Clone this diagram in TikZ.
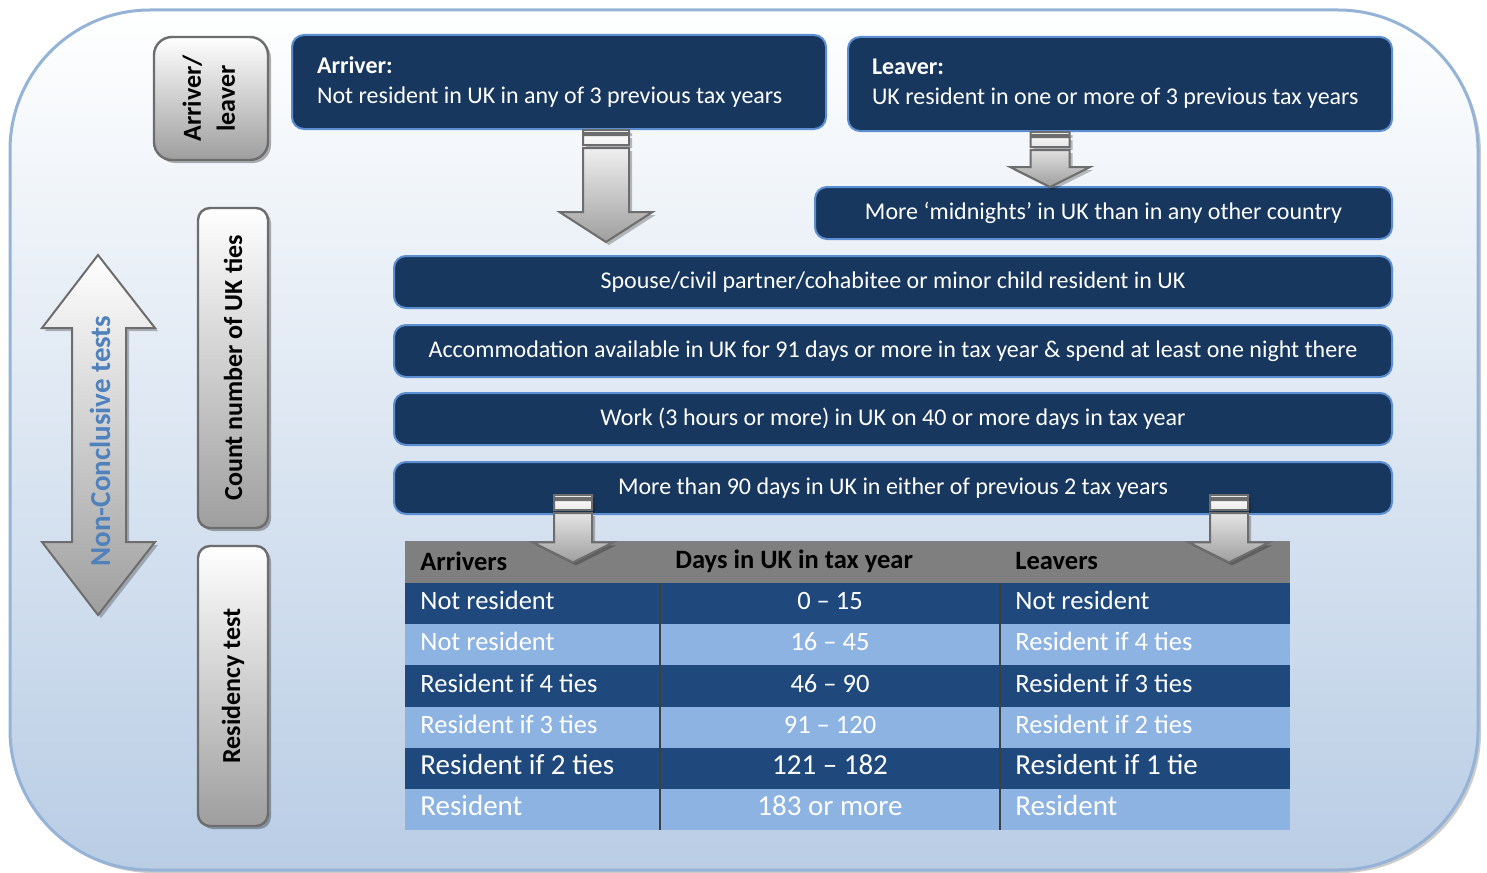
\documentclass[tikz,border=0pt]{standalone}
\usepackage{fontspec}
\setmainfont{Carlito}
\usepackage{graphicx}
\usetikzlibrary{shadows,calc,positioning}

\definecolor{navy}{HTML}{17375E}
\definecolor{navyedge}{HTML}{5B8FD1}
\definecolor{frameedge}{HTML}{95B3D7}
\definecolor{framelow}{HTML}{B9CDE5}
\definecolor{rowdark}{HTML}{1F497D}
\definecolor{rowlight}{HTML}{8DB3E2}
\definecolor{headgray}{HTML}{7F7F7F}
\definecolor{labelblue}{HTML}{4F81BD}
\definecolor{greyedge}{HTML}{6D6D6D}

\tikzset{
    frame/.style={
        rounded corners=70pt,     % big soft corners of the panel
        draw=frameedge,
        line width=1.5pt,
        top color=white,
        bottom color=framelow
    },
    navybox/.style={
        rectangle,
        rounded corners=6pt,
        draw=navyedge,
        line width=1pt,
        fill=navy,
        text=white,
        inner sep=0pt,
        font=\fontsize{12}{15}\selectfont
    },
    sidebox/.style={
        rectangle,
        rounded corners=6pt,
        draw=greyedge,
        line width=1.2pt,
        top color=white,
        bottom color=black!38,
        inner sep=0pt,
        font=\bfseries\fontsize{13}{17}\selectfont,
        drop shadow={shadow xshift=1.5pt, shadow yshift=-1.5pt, fill=black, opacity=.3}
    },
    fatarrow/.style={
        draw=greyedge,
        line width=1pt,
        line join=miter,
        top color=white,
        bottom color=black!38,
        drop shadow={shadow xshift=1.5pt, shadow yshift=-1.5pt, fill=black, opacity=.25}
    },
    celltxt/.style={text=white, inner sep=0pt, text height=1.6ex, text depth=.3ex},
    cellsmall/.style={font=\fontsize{13.25}{15}\selectfont},
    cellbig/.style={font=\fontsize{14.5}{16}\selectfont},
    headtxt/.style={text=black, inner sep=0pt, font=\bfseries\fontsize{13.25}{15}\selectfont},
    sepline/.style={draw=black!75, line width=.8pt}
}

% block arrow pointing down: top coord, tip coord, shaft half, head half, head length
\newcommand{\fatdown}[5]{%
    \path[fatarrow] let \p1=(#1), \p2=(#2) in
        (\x1-#3,\y1) rectangle (\x1+#3,\y1-1.5pt)
        (\x1-#3,\y1-2.5pt) rectangle (\x1+#3,\y1-7.5pt)
        (\x1-#3,\y1-9pt) -- (\x1+#3,\y1-9pt) -- (\x1+#3,\y2+#5) -- (\x1+#4,\y2+#5)
        -- (\x1,\y2) -- (\x1-#4,\y2+#5) -- (\x1-#3,\y2+#5) -- cycle;
}

\begin{document}
\begin{tikzpicture}[x=0.5pt, y=-0.5pt]
    \useasboundingbox (0,0) rectangle (1487,872);
    \path[frame, drop shadow={shadow xshift=1.5pt, shadow yshift=-1.5pt, fill=black, opacity=.2}] (10,10) rectangle (1478,870);

    % left column
    \node[sidebox, rounded corners=9pt, minimum width=57pt, minimum height=61.5pt] (arrleave) at (211,98.5)
        {\rotatebox{90}{\begin{tabular}{@{}c@{}}Arriver/\\leaver\end{tabular}}};
    \node[sidebox, minimum width=35pt, minimum height=160pt] (ties) at (233,368)
        {\rotatebox{90}{Count number of UK ties}};
    \node[sidebox, minimum width=35pt, minimum height=140pt] (restest) at (233,686)
        {\rotatebox{90}{Residency test}};

    \path[fatarrow] (98,255) -- (155,328) -- (126,328) -- (126,542) -- (155,542) -- (98,615)
        -- (42,542) -- (72,542) -- (72,328) -- (42,328) -- cycle;
    \node[rotate=90, text=labelblue, font=\bfseries\fontsize{14.5}{16}\selectfont] (nonconc) at (100,441) {Non-Conclusive tests};

    % tests
    \node[navybox, minimum width=267pt, minimum height=47pt, text width=242pt, align=left] (arriver) at (559,82)
        {\spaceskip=0pt\xspaceskip=0pt\textbf{Arriver:}\\Not resident in UK in any of 3 previous tax years};
    \node[navybox, minimum width=272pt, minimum height=47pt, text width=248pt, align=left] (leaver) at (1120,84)
        {\spaceskip=0pt\xspaceskip=0pt\textbf{Leaver:}\\UK resident in one or more of 3 previous tax years};
    \node[navybox, minimum width=499pt, minimum height=26pt] (spouse) at (893,282)
        {Spouse/civil partner/cohabitee or minor child resident in UK};
    \node[navybox, minimum width=288.5pt, minimum height=26pt, anchor=south east] (midnight) at ([yshift=7.5pt]spouse.north east)
        {More ‘midnights’ in UK than in any other country};
    \node[navybox, minimum width=499pt, minimum height=26pt, below=7.5pt of spouse] (accom)
        {Accommodation available in UK for 91 days or more in tax year \& spend at least one night there};
    \node[navybox, minimum width=499pt, minimum height=26pt, below=7pt of accom] (work)
        {Work (3 hours or more) in UK on 40 or more days in tax year};
    \node[navybox, minimum width=499pt, minimum height=26pt, below=7.5pt of work] (ninety)
        {More than 90 days in UK in either of previous 2 tax years};

    % table
    \node[fill=headgray, inner sep=0pt, minimum width=442.5pt, minimum height=21pt, anchor=north west] (thead) at (405,541) {};
    \node[headtxt, anchor=west] (h1) at (420,561) {Arrivers};
    \node[headtxt, anchor=west] (h2) at (675,561) {Days in UK in tax year};
    \node[headtxt, anchor=west] (h3) at (1015,561) {Leavers};
    \foreach \i/\tone/\fs/\a/\b/\c in {
        1/rowdark/cellsmall/Not resident/0 -- 15/Not resident,
        2/rowlight/cellsmall/Not resident/16 -- 45/Resident if 4 ties,
        3/rowdark/cellsmall/Resident if 4 ties/46 -- 90/Resident if 3 ties,
        4/rowlight/cellsmall/Resident if 3 ties/91 -- 120/Resident if 2 ties,
        5/rowdark/cellbig/Resident if 2 ties/121 -- 182/Resident if 1 tie,
        6/rowlight/cellbig/Resident/183 or more/Resident}{
        \pgfmathsetmacro\yt{583+41.17*(\i-1)}
        \pgfmathsetmacro\yc{\yt+20.58}
        \fill[\tone] (405,\yt) rectangle (1290,\yt+41.17);
        \node[celltxt, \fs, anchor=west] (r\i-a) at (420,\yc) {\a};
        \node[celltxt, \fs] (r\i-b) at (830,\yc) {\b};
        \node[celltxt, \fs, anchor=west] (r\i-c) at (1015,\yc) {\c};
    }
    \draw[sepline] (660,583) -- (660,830);
    \draw[sepline] (1000,583) -- (1000,830);

    % arrows
    \coordinate (a1top) at ([xshift=23.5pt]arriver.south);
    \coordinate (a1tip) at ($(spouse.north)+(-287,-13)$);
    \coordinate (a2top) at ($(leaver.south)+(-70,0)$);
    \coordinate (a2tip) at ($(midnight.north)+(-53.5,1)$);
    \coordinate (a3top) at ($(ninety.south)+(-320,-20)$);
    \coordinate (a3tip) at ($(thead.west)+(168,0)$);
    \coordinate (a4top) at ($(ninety.south)+(336,-20)$);
    \coordinate (a4tip) at ($(thead.east)+(-61,0)$);
    \fatdown{a1top}{a1tip}{11.5pt}{23.25pt}{15pt}
    \fatdown{a2top}{a2tip}{9.75pt}{20pt}{10pt}
    \fatdown{a3top}{a3tip}{9.5pt}{20pt}{10pt}
    \fatdown{a4top}{a4tip}{9.5pt}{20pt}{10pt}
\end{tikzpicture}
\end{document}
